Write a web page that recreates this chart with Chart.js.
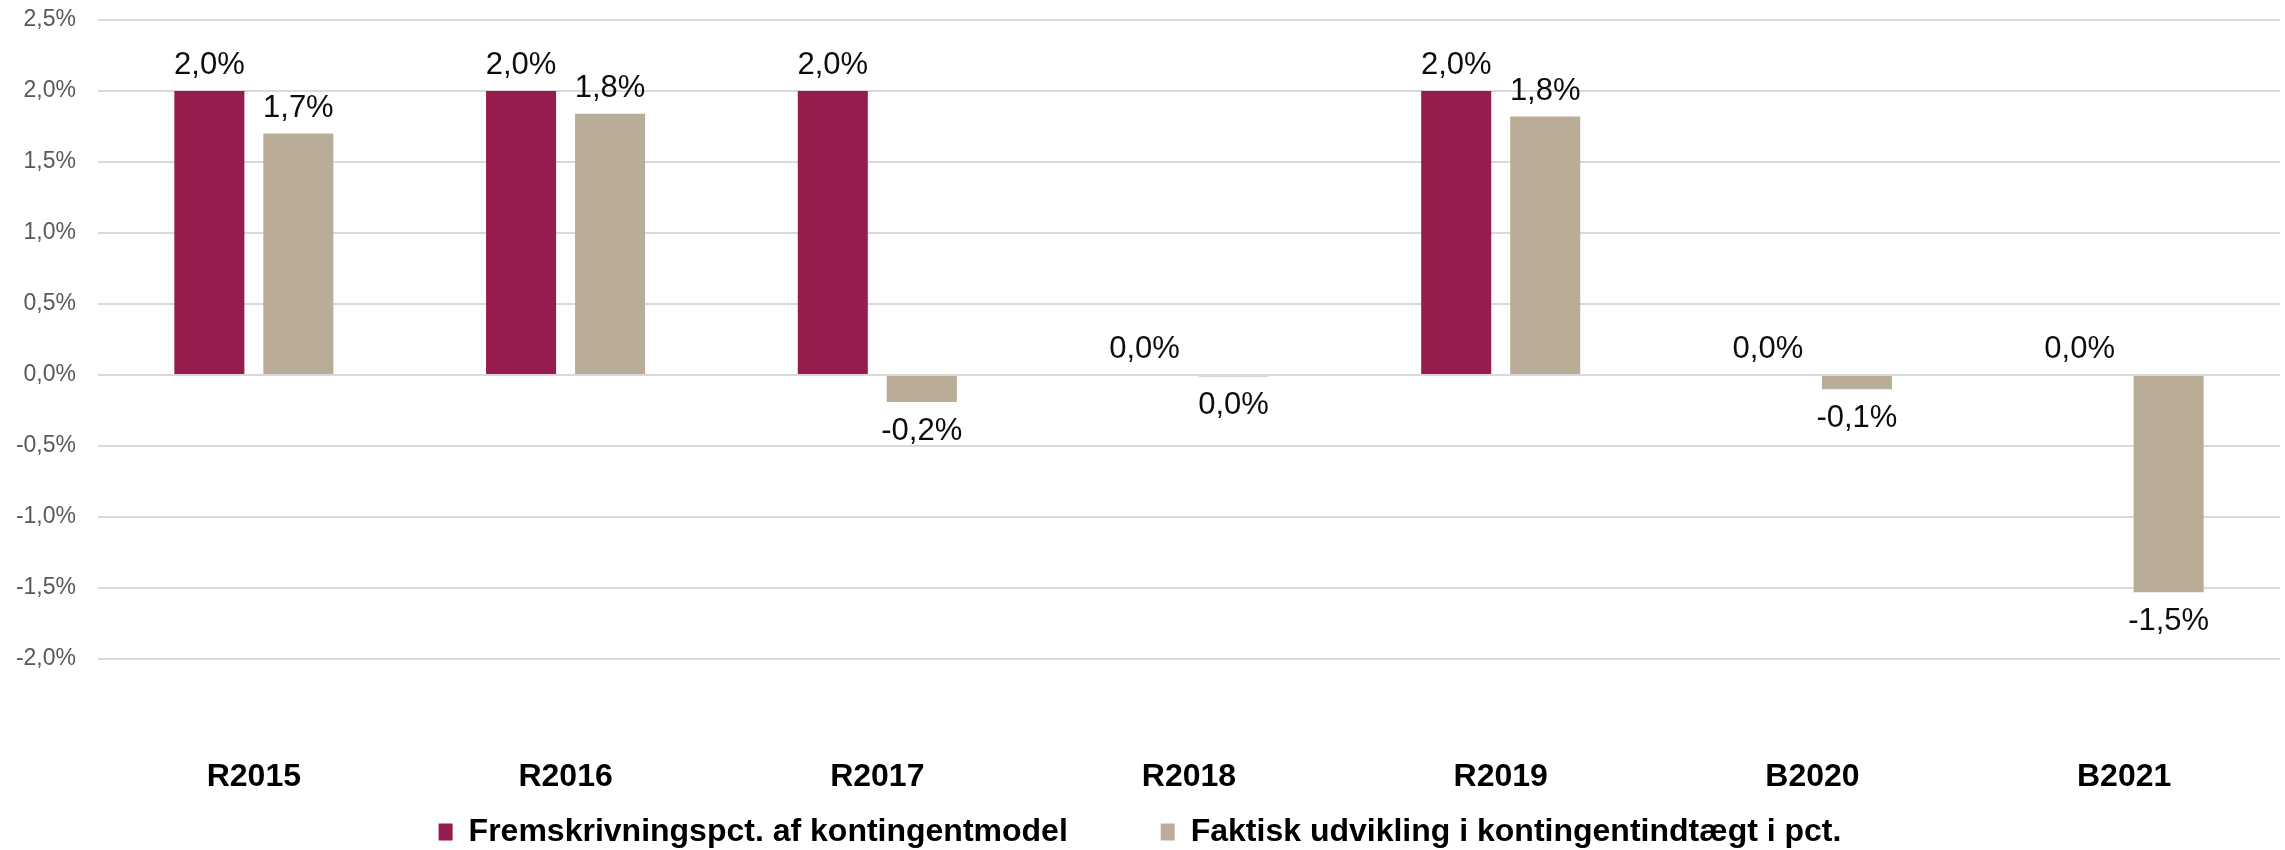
<!DOCTYPE html>
<html>
<head>
<meta charset="utf-8">
<script src="https://cdn.jsdelivr.net/npm/chart.js@4"></script>
<style>
  body { margin: 0; background: #fff; }
  #wrap { width: 2285px; height: 850px; }
</style>
</head>
<body>
<div id="wrap"><canvas id="kontingent_chart"></canvas></div>
<script>
var categories = ['R2015', 'R2016', 'R2017', 'R2018', 'R2019', 'B2020', 'B2021'];
var fremskrivning = [2.0, 2.0, 2.0, 0.0, 2.0, 0.0, 0.0];
var faktisk = [1.70, 1.84, -0.19, -0.01, 1.82, -0.10, -1.53];
var series_names = ['Fremskrivningspct. af kontingentmodel', 'Faktisk udvikling i kontingentindtægt i pct.'];

var font_family = '"Liberation Sans", Arial, sans-serif';

var fmt_pct = function(v) {
  var s = v.toFixed(1);
  if (s === '-0.0') s = '0.0';
  return s.replace('.', ',') + '%';
};

// draws the value labels at the outer end of each bar
var value_labels = {
  id: 'value_labels',
  afterDatasetsDraw: function(chart) {
    var ctx = chart.ctx;
    ctx.save();
    ctx.font = '31px ' + font_family;
    ctx.fillStyle = '#0d0d0d';
    ctx.textAlign = 'center';
    chart.data.datasets.forEach(function(ds, i) {
      var meta = chart.getDatasetMeta(i);
      meta.data.forEach(function(bar, j) {
        var v = ds.data[j];
        if (v >= 0) {
          ctx.textBaseline = 'alphabetic';
          ctx.fillText(fmt_pct(v), bar.x, bar.y - 17);
        } else {
          ctx.textBaseline = 'top';
          ctx.fillText(fmt_pct(v), bar.x, bar.y + 14);
        }
      });
    });
    ctx.restore();
  }
};

var ctx = document.getElementById('kontingent_chart').getContext('2d');
var chart = new Chart(ctx, {
  type: 'bar',
  data: {
    labels: categories,
    datasets: [
      {
        label: series_names[0],
        data: fremskrivning,
        backgroundColor: '#961b4e'
      },
      {
        label: series_names[1],
        data: faktisk,
        backgroundColor: '#b9ad97'
      }
    ]
  },
  options: {
    responsive: true,
    maintainAspectRatio: false,
    animation: false,
    layout: { padding: { top: 20, right: 5, left: 0, bottom: -8 } },
    datasets: {
      bar: { categoryPercentage: 0.571, barPercentage: 0.787 }
    },
    plugins: {
      tooltip: { enabled: false },
      legend: {
        position: 'bottom',
        labels: {
          color: '#000',
          font: { family: font_family, size: 32, weight: 'bold' },
          boxWidth: 14,
          boxHeight: 17,
          padding: 4,
          generateLabels: function(chart) {
            var items = Chart.defaults.plugins.legend.labels.generateLabels(chart);
            // wider gap after the first item, like the original
            items[0].text = items[0].text + '          ';
            return items;
          }
        }
      }
    },
    scales: {
      x: {
        grid: { display: false },
        border: { display: false },
        ticks: {
          color: '#000',
          font: { family: font_family, size: 32, weight: 'bold' },
          padding: 91
        },
        afterFit: function(scale) { scale.height = 153; }
      },
      y: {
        min: -2.0,
        max: 2.5,
        grid: { color: '#d9d9d9', lineWidth: 2, drawTicks: false },
        border: { display: false },
        ticks: {
          stepSize: 0.5,
          color: '#595959',
          padding: 22,
          font: { family: font_family, size: 23 },
          callback: function(v) { return fmt_pct(v); }
        },
        afterFit: function(scale) {
          scale.width = 98;
          scale.paddingTop = 0;
          scale.paddingBottom = 0;
        }
      }
    }
  },
  plugins: [value_labels]
});
</script>
</body>
</html>
